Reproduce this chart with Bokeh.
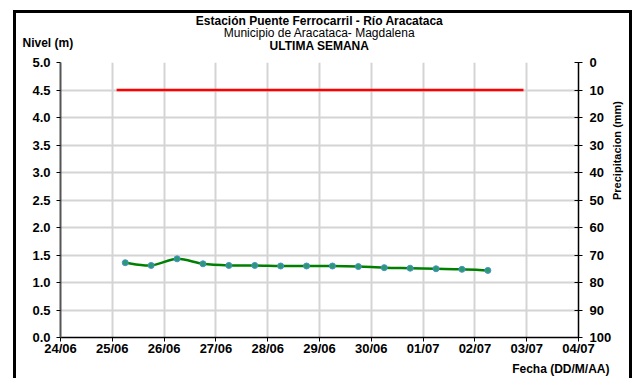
from datetime import datetime
import numpy as np
from bokeh.plotting import figure
from bokeh.models import (Range1d, LinearAxis, FixedTicker, CustomJSTickFormatter,
                          ColumnDataSource, Title)
from bokeh.embed import file_html
from bokeh.resources import INLINE

# ---------------- data ----------------
fechas = ["2023-06-25 06:00", "2023-06-25 18:00", "2023-06-26 06:00", "2023-06-26 18:00",
          "2023-06-27 06:00", "2023-06-27 18:00", "2023-06-28 06:00", "2023-06-28 18:00",
          "2023-06-29 06:00", "2023-06-29 18:00", "2023-06-30 06:00", "2023-06-30 18:00",
          "2023-07-01 06:00", "2023-07-01 18:00", "2023-07-02 06:00"]
nivel = [1.36, 1.31, 1.43, 1.34, 1.31, 1.31, 1.30, 1.30, 1.30, 1.29, 1.27, 1.26, 1.25, 1.24, 1.22]

alerta_fechas = ["2023-06-25 02:00", "2023-07-02 22:30"]
alerta_nivel = [4.5, 4.5]

tick_fechas = ["2023-06-24", "2023-06-25", "2023-06-26", "2023-06-27", "2023-06-28", "2023-06-29",
               "2023-06-30", "2023-07-01", "2023-07-02", "2023-07-03", "2023-07-04"]
tick_labels = ["24/06", "25/06", "26/06", "27/06", "28/06", "29/06",
               "30/06", "01/07", "02/07", "03/07", "04/07"]
nivel_ticks = [0.0, 0.5, 1.0, 1.5, 2.0, 2.5, 3.0, 3.5, 4.0, 4.5, 5.0]
precip_ticks = [0, 10, 20, 30, 40, 50, 60, 70, 80, 90, 100]

titulo1 = "Estación Puente Ferrocarril - Río Aracataca"
titulo2 = "Municipio de Aracataca- Magdalena"
titulo3 = "ULTIMA SEMANA"
label_nivel = "Nivel (m)"
label_fecha = "Fecha (DD/M/AA)"
label_precip = "Precipitacion (mm)"

# ---------------- helpers ----------------
EPOCH = datetime(1970, 1, 1)
def ms(s):
    fmt = "%Y-%m-%d %H:%M" if " " in s else "%Y-%m-%d"
    return (datetime.strptime(s, fmt) - EPOCH).total_seconds() * 1000.0

x = np.array([ms(s) for s in fechas])
y = np.array(nivel)
ticks_ms = [ms(s) for s in tick_fechas]

FONT = "Liberation Sans"

p = figure(width=619, height=368, output_backend="svg", toolbar_location=None, title=None,
           x_range=Range1d(ticks_ms[0], ticks_ms[-1]), y_range=Range1d(0, 5),
           x_axis_type="datetime",
           min_border_left=44, min_border_right=57, min_border_top=49, min_border_bottom=43,
           background_fill_color="white", border_fill_color="white",
           styles={"border": "3px solid black", "border-bottom": "none",
                   "margin-left": "13px", "margin-top": "10px"})
p.outline_line_color = None

p.xgrid.ticker = FixedTicker(ticks=ticks_ms)
p.ygrid.ticker = FixedTicker(ticks=nivel_ticks)
for g in (p.xgrid, p.ygrid):
    g.grid_line_color = "#d4d4d4"
    g.grid_line_width = 2

xa = p.xaxis[0]
xa.ticker = FixedTicker(ticks=ticks_ms)
xa.formatter = CustomJSTickFormatter(args=dict(t=ticks_ms, l=tick_labels), code="""
    for (let i = 0; i < t.length; i++) { if (Math.abs(t[i] - tick) < 1000) return l[i]; }
    return '';
""")
xa.axis_line_color = "black"
xa.axis_line_width = 1.5
xa.major_tick_in = 0
xa.major_tick_out = 4
xa.major_tick_line_color = "black"
xa.minor_tick_line_color = None
xa.major_label_text_font = FONT
xa.major_label_text_font_style = "bold"
xa.major_label_text_font_size = "13px"
xa.major_label_text_color = "black"
xa.major_label_standoff = -1

ya = p.yaxis[0]
ya.ticker = FixedTicker(ticks=nivel_ticks)
ya.formatter = CustomJSTickFormatter(code="return tick.toFixed(1);")
ya.axis_line_color = "#555555"
ya.axis_line_width = 2
ya.major_tick_in = 0
ya.major_tick_out = 4
ya.major_tick_line_color = "black"
ya.minor_tick_line_color = None
ya.major_label_text_font = FONT
ya.major_label_text_font_style = "bold"
ya.major_label_text_font_size = "13px"
ya.major_label_text_color = "black"
ya.major_label_standoff = 6

p.extra_y_ranges = {"precip": Range1d(100, 0)}
ra = LinearAxis(y_range_name="precip", ticker=FixedTicker(ticks=precip_ticks))
ra.axis_line_color = "black"
ra.axis_line_width = 1.5
ra.major_tick_in = 4
ra.major_tick_out = 4
ra.major_tick_line_color = "black"
ra.minor_tick_line_color = None
ra.major_label_text_font = FONT
ra.major_label_text_font_style = "bold"
ra.major_label_text_font_size = "13px"
ra.major_label_text_color = "black"
ra.major_label_standoff = 7
ra.axis_label = label_precip
ra.axis_label_text_font = FONT
ra.axis_label_text_font_style = "bold"
ra.axis_label_text_font_size = "11px"
ra.axis_label_text_color = "black"
ra.axis_label_standoff = 3
ra.axis_label_orientation = np.pi / 2
p.add_layout(ra, "right")

# threshold line
p.line([ms(s) for s in alerta_fechas], alerta_nivel, line_color="#ff0000", line_width=2.5)

# smoothed level curve (Catmull-Rom bezier built from the data points)
xp = np.concatenate([[x[0]], x, [x[-1]]])
yp = np.concatenate([[y[0]], y, [y[-1]]])
bz = dict(x0=[], y0=[], x1=[], y1=[], cx0=[], cy0=[], cx1=[], cy1=[])
for i in range(1, len(xp) - 2):
    bz["x0"].append(xp[i]); bz["y0"].append(yp[i])
    bz["x1"].append(xp[i + 1]); bz["y1"].append(yp[i + 1])
    bz["cx0"].append(xp[i] + (xp[i + 1] - xp[i - 1]) / 6)
    bz["cy0"].append(yp[i] + (yp[i + 1] - yp[i - 1]) / 6)
    bz["cx1"].append(xp[i + 1] - (xp[i + 2] - xp[i]) / 6)
    bz["cy1"].append(yp[i + 1] - (yp[i + 2] - yp[i]) / 6)
p.bezier(x0="x0", y0="y0", x1="x1", y1="y1", cx0="cx0", cy0="cy0", cx1="cx1", cy1="cy1",
         source=ColumnDataSource(bz), line_color="#008000", line_width=2.5)
p.scatter(x, y, size=6, marker="circle", fill_color="#2a9a70", line_color="#4a8fd0", line_width=1)

# ---------------- titles (stacked from the frame outward) ----------------
def title(txt, bold=True, align="center", valign="bottom", standoff=0, offset=0, size="12px"):
    return Title(text=txt, align=align, vertical_align=valign, standoff=standoff, offset=offset,
                 text_font=FONT, text_font_style="bold" if bold else "normal",
                 text_font_size=size, text_color="black")

p.add_layout(title(titulo3, valign="bottom", standoff=20), "above")
p.add_layout(title(label_nivel, align="left", valign="bottom", standoff=-47, offset=-38), "above")
p.add_layout(title(titulo2, bold=False, valign="bottom", standoff=-26), "above")
p.add_layout(title(titulo1, valign="bottom", standoff=-3), "above")

p.add_layout(title(label_fecha, align="right", valign="top", standoff=7, offset=-31), "below")

open("out.html", "w").write(file_html(p, INLINE))
